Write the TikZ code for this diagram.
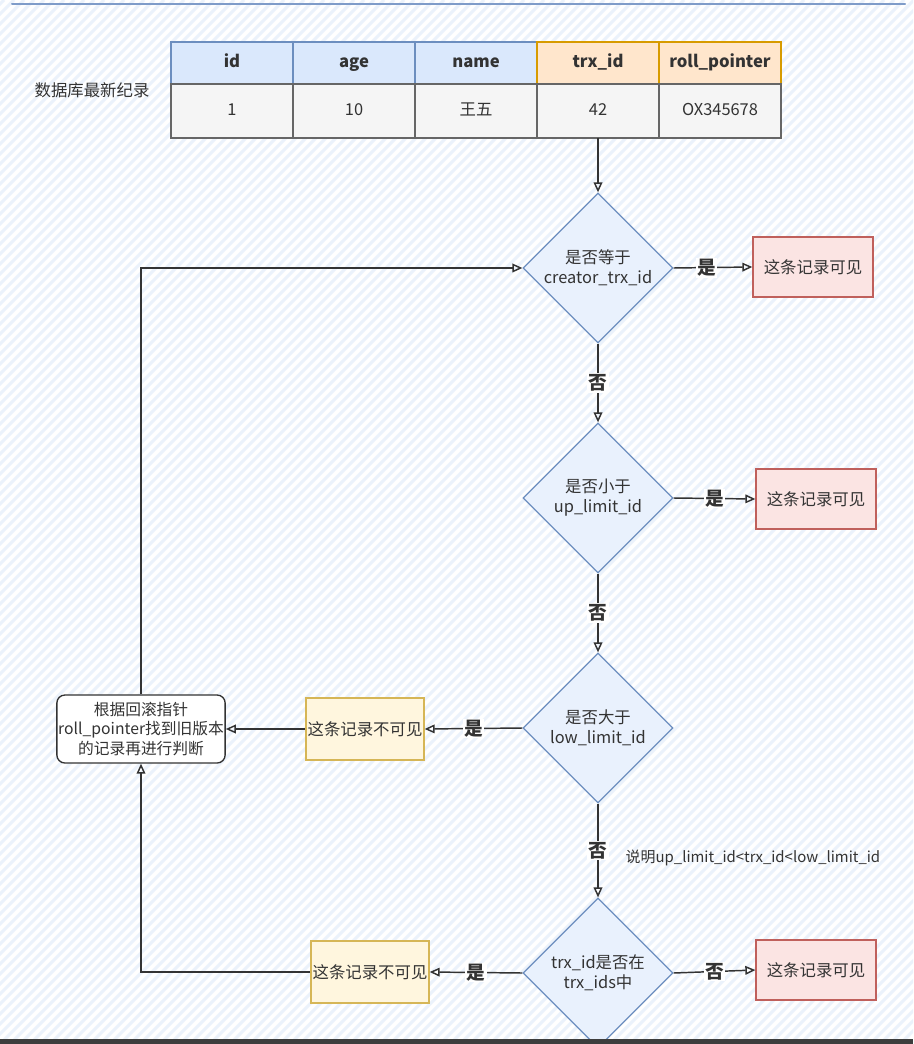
\documentclass[tikz,border=0pt]{standalone}
\usepackage{fontspec}
\setmainfont{Noto Sans CJK SC}
\usepackage{tikz}
\usetikzlibrary{arrows.meta,positioning,shapes.geometric}
\definecolor{ink}{HTML}{333333}
\definecolor{bluefill}{HTML}{DAE8FC}
\definecolor{bluedraw}{HTML}{6C8EBF}
\definecolor{orgfill}{HTML}{FFE6CC}
\definecolor{orgdraw}{HTML}{D79B00}
\definecolor{grayfill}{HTML}{F5F5F5}
\definecolor{graydraw}{HTML}{666666}
\definecolor{redfill}{HTML}{FBE4E3}
\definecolor{reddraw}{HTML}{C0605C}
\definecolor{yelfill}{HTML}{FFF6DE}
\definecolor{yeldraw}{HTML}{D6B656}
\definecolor{stripe}{HTML}{EBF2FB}
\definecolor{topline}{HTML}{7F9CC9}
\tikzset{
  txt/.style={font=\fontsize{12.3}{15}\selectfont, text=ink},
  cell/.style={rectangle, txt, draw=graydraw, fill=grayfill, line width=0.8pt, outer sep=0pt,
               inner sep=0pt, text height=9pt, text depth=2.5pt,
               minimum width=91.5pt, minimum height=40.5pt},
  hdblue/.style={cell, draw=bluedraw, fill=bluefill, minimum height=31.5pt,
                 font=\fontsize{12.5}{15}\selectfont\bfseries},
  hdorg/.style={hdblue, draw=orgdraw, fill=orgfill},
  cond/.style={diamond, aspect=1, txt, draw=bluedraw, fill=bluefill!60, line width=0.9pt,
               minimum width=112.5pt, minimum height=112.5pt, inner sep=0pt, align=center},
  okbox/.style={rectangle, txt, draw=reddraw, fill=redfill, line width=1pt,
                minimum width=90pt, minimum height=45pt},
  nobox/.style={rectangle, txt, draw=yeldraw, fill=yelfill, line width=1pt,
                minimum width=88.5pt, minimum height=46.5pt, inner sep=1pt},
  backbox/.style={rectangle, txt, font=\fontsize{11.8}{14.5}\selectfont, rounded corners=6pt,
                  draw=ink, fill=white, line width=1pt,
                  minimum width=126pt, minimum height=51pt, align=center, inner sep=1pt},
  fl/.style={-{Triangle[open,length=7.5pt,width=6.5pt]}, line width=1.1pt, draw=ink},
  yn/.style={font=\fontsize{14}{16}\selectfont\bfseries, text=ink, fill=white, inner sep=1pt},
}
\begin{document}
\begin{tikzpicture}[x=0.75pt, y=-0.75pt]
  \useasboundingbox (0,0) rectangle (913,1044);
  % background with light stripes
  \fill[white] (0,0) rectangle (913,1044);
  \begin{scope}
    \clip (0,0) rectangle (913,1044);
    \foreach \i in {-1050,-1040,...,920}
      \draw[stripe, line width=2.2pt] (\i,1044) -- ++(1044,-1044);
  \end{scope}
  \draw[topline, line width=1.5pt, line cap=round] (12,4) -- (905,4);

  % record table
  \node[txt] (title) at (92,90) {数据库最新纪录};
  \node[hdblue] (hid) at (232,63) {id};
  \node[hdblue, right=0pt of hid] (hage) {age};
  \node[hdblue, right=0pt of hage] (hname) {name};
  \node[hdorg, right=0pt of hname] (htrx) {trx\_id};
  \node[hdorg, right=0pt of htrx] (hroll) {roll\_pointer};
  \node[cell, below=0pt of hid] (vid) {1};
  \node[cell, below=0pt of hage] (vage) {10};
  \node[cell, below=0pt of hname] (vname) {王五};
  \node[cell, below=0pt of htrx] (vtrx) {42};
  \node[cell, below=0pt of hroll] (vroll) {OX345678};

  % checks
  \node[cond] (c1) at (598,268) {是否等于\\creator\_trx\_id};
  \node[cond] (c2) at (598,498) {是否小于\\up\_limit\_id};
  \node[cond] (c3) at (598,728) {是否大于\\low\_limit\_id};
  \node[cond] (c4) at (598,973) {trx\_id是否在\\trx\_ids中};
  \node[okbox] (v1) at (813,267) {这条记录可见};
  \node[okbox] (v2) at (816,499) {这条记录可见};
  \node[okbox] (v4) at (816,970) {这条记录可见};
  \node[nobox] (n1) at (365,729) {这条记录不可见};
  \node[nobox] (n2) at (370,972) {这条记录不可见};
  \node[backbox] (back) at (141,729) {根据回滚指针\\roll\_pointer找到旧版本\\的记录再进行判断};
  \node[txt, font=\fontsize{11.2}{14}\selectfont, anchor=west] (note) at (621,858)
    {说明up\_limit\_id<trx\_id<low\_limit\_id};

  \draw[fl] (vtrx.south) -- (c1.north);
  \draw[fl] (c1.east) -- node[yn, pos=0.42] {是} (v1.west);
  \draw[fl] (c1.south) -- node[yn] {否} (c2.north);
  \draw[fl] (c2.east) -- node[yn] {是} (v2.west);
  \draw[fl] (c2.south) -- node[yn] {否} (c3.north);
  \draw[fl] (c3.west) -- node[yn] {是} (n1.east);
  \draw[fl] (n1.west) -- (back.east);
  \draw[fl] (c3.south) -- node[yn] {否} (c4.north);
  \draw[fl] (c4.east) -- node[yn] {否} (v4.west);
  \draw[fl] (c4.west) -- node[yn] {是} (n2.east);
  \draw[fl] (n2.west) -| (back.south);
  \draw[fl] (back.north) |- (c1.west);

  \fill[ink!95] (0,1039) rectangle (913,1046);
\end{tikzpicture}
\end{document}
